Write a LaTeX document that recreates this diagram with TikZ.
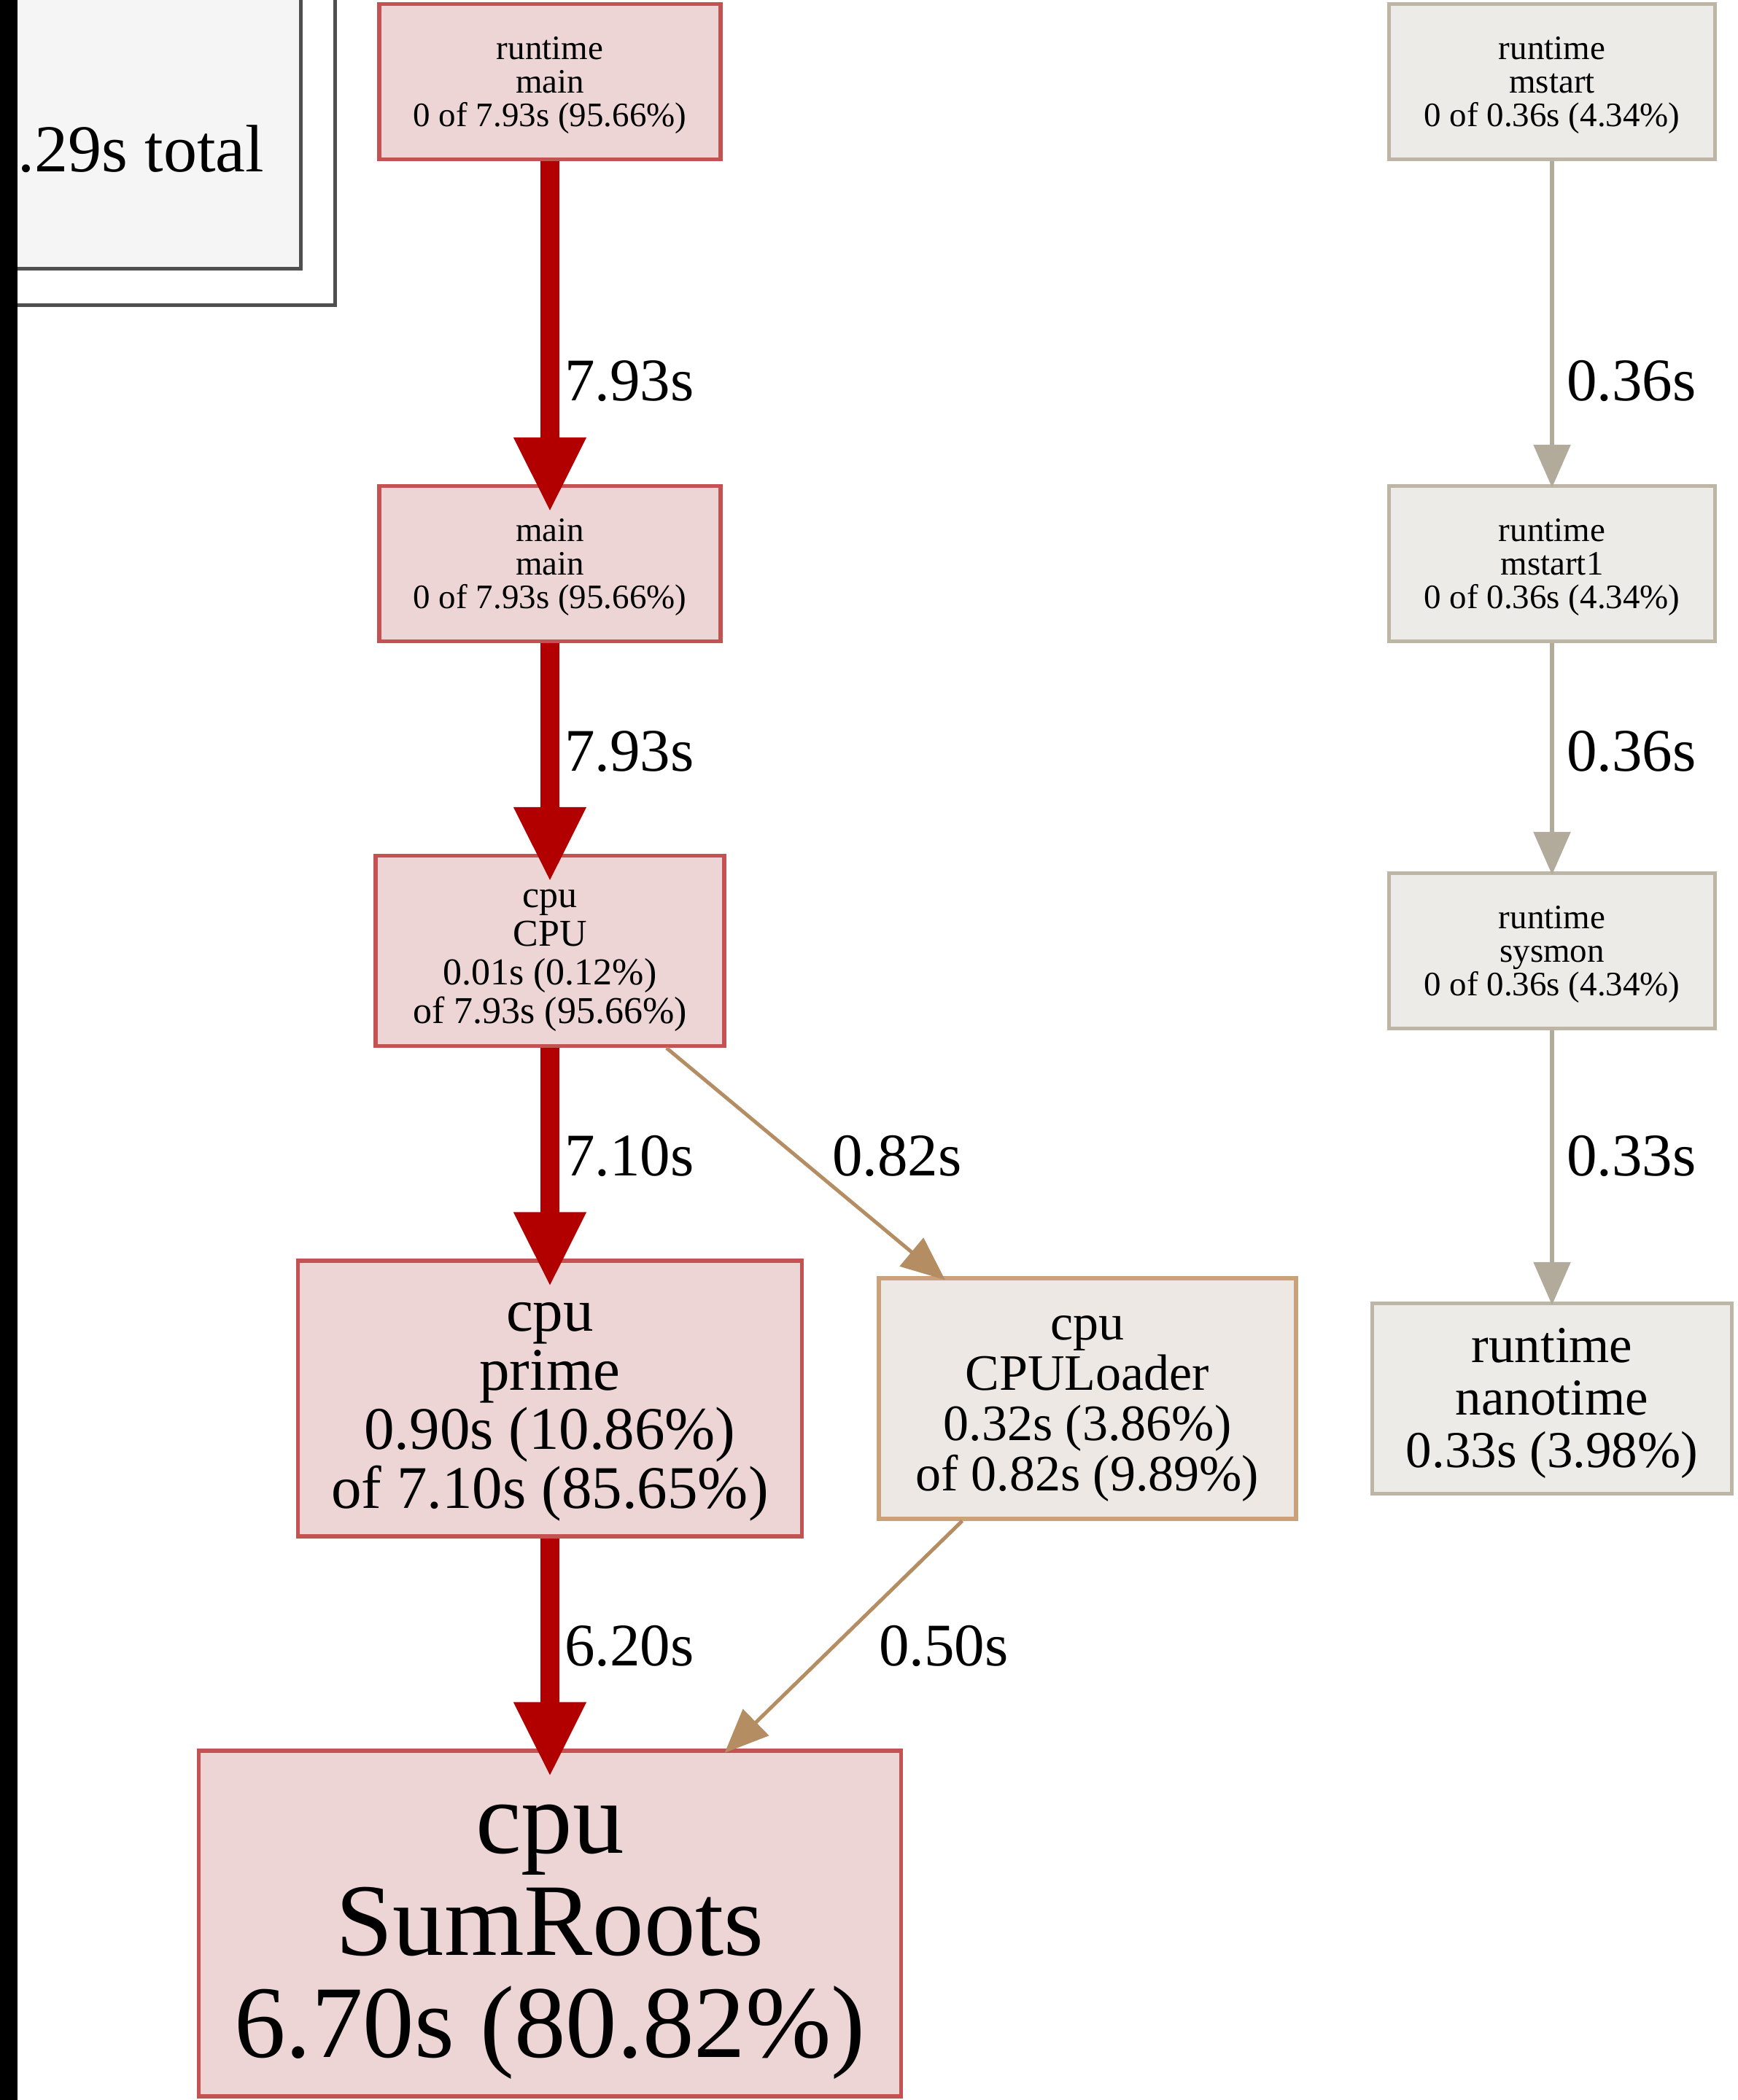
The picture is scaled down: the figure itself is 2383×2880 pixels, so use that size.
\documentclass[tikz,border=0pt]{standalone}
\usepackage{fontspec}
\setmainfont{Liberation Serif}
\usetikzlibrary{arrows.meta}

\definecolor{hotfill}{HTML}{EDD5D6}
\definecolor{hotline}{HTML}{C45252}
\definecolor{hotedge}{HTML}{B20000}
\definecolor{warmfill}{HTML}{EDE8E3}
\definecolor{warmline}{HTML}{C9A27C}
\definecolor{warmedge}{HTML}{B58D63}
\definecolor{coolfill}{HTML}{ECEBE7}
\definecolor{coolline}{HTML}{BDB5A6}
\definecolor{cooledge}{HTML}{B2AA9B}
\definecolor{legendfill}{HTML}{F5F5F5}
\definecolor{legendline}{HTML}{4F4F4F}

\newcommand{\fsz}[2]{\fontsize{#1}{#2}\selectfont}

\tikzset{
  fn/.style={rectangle, line width=0.55pt, inner sep=0pt},
  hot/.style={fn, draw=hotline, fill=hotfill},
  warm/.style={fn, draw=warmline, fill=warmfill},
  cool/.style={fn, draw=coolline, fill=coolfill},
  % function text, set in the middle of its box and lowered a little
  ftext/.style={align=center, inner sep=0pt, text=black},
  smallfn/.style={minimum height=21.3pt},
  smalltext/.style={ftext, font=\fsz{4.7}{4.6}, yshift=-0.5pt},
  elabel/.style={anchor=base west, inner sep=0pt, font=\fsz{8.3}{8.3}},
  hotarrow/.style={draw=hotedge, line width=2.6pt, shorten >=-3.9pt,
    -{Triangle[length=10.3pt,width=9.2pt]}},
  warmarrow/.style={draw=warmedge, line width=0.5pt, shorten >=-0.8pt,
    -{Triangle[length=6pt,width=5pt]}},
  coolarrow/.style={draw=cooledge, line width=0.6pt, shorten >=-0.5pt,
    -{Triangle[length=5.9pt,width=5pt]}},
  legendbox/.style={draw=legendline, line width=0.5pt},
}

\begin{document}
\begin{tikzpicture}[x=0.1pt,y=-0.1pt]
\useasboundingbox (0,0) rectangle (2383,2880);
\clip (0,0) rectangle (2383,2880);
\fill[white] (0,0) rectangle (2383,2880);

% legend box (double border)
\draw[legendbox, fill=white] (-200,-200) rectangle (459,419);
\draw[legendbox, fill=legendfill] (-200,-200) rectangle (412,369);
\node[anchor=base east, inner sep=0pt, font=\fsz{9.2}{9.2}] (total) at (364,236) {.29s total};

% dark strip along the left edge
\fill[black] (0,0) rectangle (24,2880);

% call graph nodes
\node[hot, smallfn, minimum width=46.8pt,
  label={[smalltext]center:{runtime\\main\\0 of 7.93s (95.66\%)}}] (rmain) at (754,112) {};
\node[hot, smallfn, minimum width=46.8pt,
  label={[smalltext]center:{main\\main\\0 of 7.93s (95.66\%)}}] (mmain) at (754,773) {};
\node[hot, minimum width=47.8pt, minimum height=26.1pt,
  label={[ftext, font=\fsz{5.2}{5.3}, yshift=-1.3pt]center:{cpu\\CPU\\0.01s (0.12\%)\\of 7.93s (95.66\%)}}] (cpu) at (754,1304) {};
\node[hot, minimum width=69.1pt, minimum height=37.8pt,
  label={[ftext, font=\fsz{8.3}{8.1}, yshift=-1.8pt]center:{cpu\\prime\\0.90s (10.86\%)\\of 7.10s (85.65\%)}}] (prime) at (754,1918) {};
\node[warm, minimum width=57.2pt, minimum height=33pt,
  label={[ftext, font=\fsz{7}{6.9}, yshift=-1.4pt]center:{cpu\\CPULoader\\0.32s (3.86\%)\\of 0.82s (9.89\%)}}] (loader) at (1491,1918) {};
\node[hot, minimum width=96.3pt, minimum height=47.4pt,
  label={[ftext, font=\fsz{14.1}{14}, yshift=-2.5pt]center:{cpu\\SumRoots\\6.70s (80.82\%)}}] (sum) at (754,2638) {};
\node[cool, smallfn, minimum width=44.7pt,
  label={[smalltext]center:{runtime\\mstart\\0 of 0.36s (4.34\%)}}] (mstart) at (2128,112) {};
\node[cool, smallfn, minimum width=44.7pt,
  label={[smalltext]center:{runtime\\mstart1\\0 of 0.36s (4.34\%)}}] (mstart1) at (2128,773) {};
\node[cool, smallfn, minimum width=44.7pt,
  label={[smalltext]center:{runtime\\sysmon\\0 of 0.36s (4.34\%)}}] (sysmon) at (2128,1304) {};
\node[cool, minimum width=49.3pt, minimum height=26.1pt,
  label={[ftext, font=\fsz{7.1}{7.2}, yshift=-0.7pt]center:{runtime\\nanotime\\0.33s (3.98\%)}}] (nano) at (2128,1918) {};

% call edges
\draw[hotarrow] (rmain) -- (mmain);
\draw[hotarrow] (mmain) -- (cpu);
\draw[hotarrow] (cpu) -- (prime);
\draw[hotarrow] (prime) -- (sum);
\draw[warmarrow] (cpu) -- (loader);
\draw[warmarrow] (loader) -- (sum);
\draw[coolarrow] (mstart) -- (mstart1);
\draw[coolarrow] (mstart1) -- (sysmon);
\draw[coolarrow] (sysmon) -- (nano);

% edge weights
\node[elabel] (w1) at (772,550) {7.93s};
\node[elabel] (w2) at (772,1057) {7.93s};
\node[elabel] (w3) at (772,1612) {7.10s};
\node[elabel] (w4) at (1139,1612) {0.82s};
\node[elabel] (w5) at (772,2284) {6.20s};
\node[elabel] (w6) at (1203,2284) {0.50s};
\node[elabel] (w7) at (2146,550) {0.36s};
\node[elabel] (w8) at (2146,1057) {0.36s};
\node[elabel] (w9) at (2146,1612) {0.33s};
\end{tikzpicture}
\end{document}
